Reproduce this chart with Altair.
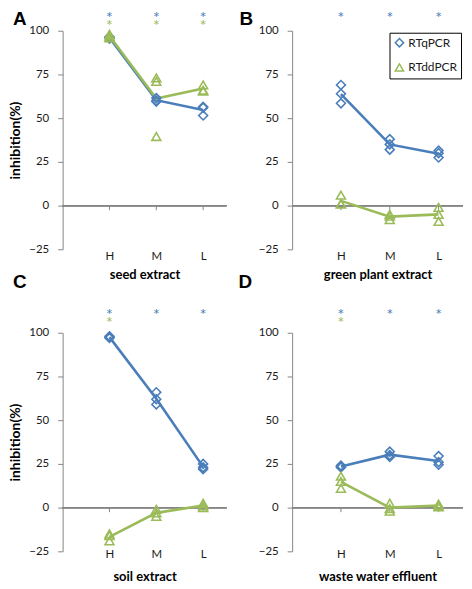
import altair as alt
import pandas as pd

levels = ["H", "M", "L"]
level_pos = [1, 2, 3]
methods = ["RTqPCR", "RTddPCR"]
colors = ["#4a7ebb", "#9bbb59"]
shapes = ["diamond", "triangle-up"]
letters = ["A", "B", "C", "D"]
x_titles = ["seed extract", "green plant extract", "soil extract", "waste water effluent"]

# replicate values per level (H, M, L)
A_qpcr = [[96.5, 96, 95.5], [61.5, 60, 59.5], [56.5, 56, 51.5]]
A_ddpcr = [[98, 97, 96], [73, 71, 39.5], [69, 66, 65.5]]
B_qpcr = [[69, 64, 58.5], [38, 35, 32], [31.5, 30, 27.5]]
B_ddpcr = [[6, 1, 1], [-5, -8, -6], [-1, -5, -9]]
C_qpcr = [[98, 97.5, 97], [66, 62, 59], [25, 23, 22]]
C_ddpcr = [[-15, -19, -16], [-1, -3, -5], [2.5, 1, 0]]
D_qpcr = [[24, 23.5, 23], [32, 30, 29], [29.5, 26, 24.5]]
D_ddpcr = [[18, 15, 11], [2.5, -2, -0.5], [2, 1, 0.5]]

# means drawn as lines
A_qpcr_mean = [96, 60.3, 54.7]
A_ddpcr_mean = [97, 61.2, 67]
B_qpcr_mean = [63.8, 35, 29.7]
B_ddpcr_mean = [2.7, -6.3, -5]
C_qpcr_mean = [97.5, 62.3, 23.3]
C_ddpcr_mean = [-16.7, -3, 1.2]
D_qpcr_mean = [23.5, 30.3, 26.7]
D_ddpcr_mean = [14.7, 0, 1.2]

# significance asterisks (1 = shown) per level
A_star_q, A_star_dd = [1, 1, 1], [1, 1, 1]
B_star_q, B_star_dd = [1, 1, 1], [0, 0, 0]
C_star_q, C_star_dd = [1, 1, 1], [1, 0, 0]
D_star_q, D_star_dd = [1, 1, 1], [1, 0, 0]
star_level_top = [109.3, 104.7]
star_level_bottom = [112.2, 107.8]

y_ticks = [-25, 0, 25, 50, 75, 100]

reps = [(A_qpcr, A_ddpcr), (B_qpcr, B_ddpcr), (C_qpcr, C_ddpcr), (D_qpcr, D_ddpcr)]
means = [(A_qpcr_mean, A_ddpcr_mean), (B_qpcr_mean, B_ddpcr_mean),
         (C_qpcr_mean, C_ddpcr_mean), (D_qpcr_mean, D_ddpcr_mean)]
stars = [(A_star_q, A_star_dd), (B_star_q, B_star_dd), (C_star_q, C_star_dd), (D_star_q, D_star_dd)]

AXIS_GREY = "#868686"
FONT = "Lato"
W_LEFT, W_RIGHT, H = 165, 172, 220

xscale = alt.Scale(domain=[0, 3.5], nice=False, zero=False)
yscale = alt.Scale(domain=[-25, 100], nice=False, zero=False)
cscale = alt.Scale(domain=methods, range=colors)
sscale = alt.Scale(domain=methods, range=shapes)


def panel(i):
    row_top = i < 2
    left = i % 2 == 0
    pts, lines, st = [], [], []
    for m, method in enumerate(methods):
        for k, p in enumerate(level_pos):
            for v in reps[i][m][k]:
                pts.append({"pos": p, "value": v, "method": method})
            lines.append({"pos": p, "value": means[i][m][k], "method": method})
            if stars[i][m][k]:
                lvl = (star_level_top if row_top else star_level_bottom)[m]
                st.append({"pos": p, "level": lvl, "method": method})
    pts, lines, st = pd.DataFrame(pts), pd.DataFrame(lines), pd.DataFrame(st)

    x_axis = alt.Axis(values=level_pos, labelExpr="['', 'H', 'M', 'L'][datum.value]",
                      ticks=False, tickSize=0, domain=False, grid=False,
                      labelBaseline="middle",
                      labelPadding=7.5 if row_top else 3.5, labelFont=FONT, labelFontSize=11.5,
                      labelColor="#1a1a1a", title=x_titles[i], titleFont=FONT,
                      titleFontSize=13, titleFontWeight="bold", titleColor="#000000",
                      titlePadding=6 if row_top else 10)
    y_axis = alt.Axis(values=y_ticks, grid=False, domainColor=AXIS_GREY, tickColor=AXIS_GREY,
                      tickSize=5, labelPadding=9, labelFont=FONT, labelFontSize=11.5,
                      labelColor="#1a1a1a", title="inhibition(%)" if left else "",
                      titleFont=FONT, titleFontSize=14, titleFontWeight="bold",
                      titleColor="#000000", titlePadding=6)

    X = alt.X("pos:Q", scale=xscale, axis=x_axis)
    base_x = alt.X("pos:Q", scale=xscale)

    zero = alt.Chart(pts).mark_rule(color=AXIS_GREY, strokeWidth=1).encode(
        y=alt.Y(datum=0, scale=yscale, axis=y_axis))
    zt = alt.Chart(lines[lines.method == methods[0]]).mark_rule(color=AXIS_GREY).encode(
        x=X, y=alt.datum(0), y2=alt.datum(-2.6))
    ln = alt.Chart(lines).mark_line(strokeWidth=2.6).encode(
        x=base_x, y=alt.Y("value:Q", scale=yscale),
        stroke=alt.Stroke("method:N", scale=cscale, legend=None),
        detail="method:N")
    if i == 1:
        leg = alt.Legend(orient="top-right", offset=2, title=None, strokeColor="black",
                         fillColor="white", padding=4, rowPadding=10, symbolStrokeWidth=1.5,
                         symbolSize=70, labelFont=FONT, labelFontSize=12,
                         labelColor="#1a1a1a", labelOffset=3, cornerRadius=0)
    else:
        leg = None
    pt = alt.Chart(pts).mark_point(filled=False, size=80, strokeWidth=1.6, opacity=1).encode(
        x=base_x, y=alt.Y("value:Q", scale=yscale),
        color=alt.Color("method:N", scale=cscale, legend=leg),
        shape=alt.Shape("method:N", scale=sscale, legend=leg))
    sr = alt.Chart(st).mark_text(text="*", font=FONT, fontSize=16, dy=3.5).encode(
        x=base_x, y=alt.Y("level:Q", scale=yscale),
        fill=alt.Fill("method:N", scale=cscale, legend=None))

    dxs = [-50, -53, -50, -54]
    title = alt.TitleParams(text=letters[i], anchor="start", frame="group", dx=dxs[i],
                            offset=-34 if row_top else 0, baseline="alphabetic",
                            font="Liberation Sans", fontSize=19, fontWeight="bold",
                            color="#000000")
    return alt.layer(zero, zt, ln, pt, sr).properties(
        width=W_LEFT if left else W_RIGHT, height=H, title=title)


chart = alt.concat(panel(0), panel(1), panel(2), panel(3), columns=2,
                   spacing={"row": 84, "column": 66}, bounds="flush").resolve_scale(
    color="independent", shape="independent").configure_view(stroke=None).properties(padding=0)

chart.save("out.html", embed_options={"renderer": "svg", "actions": False})
